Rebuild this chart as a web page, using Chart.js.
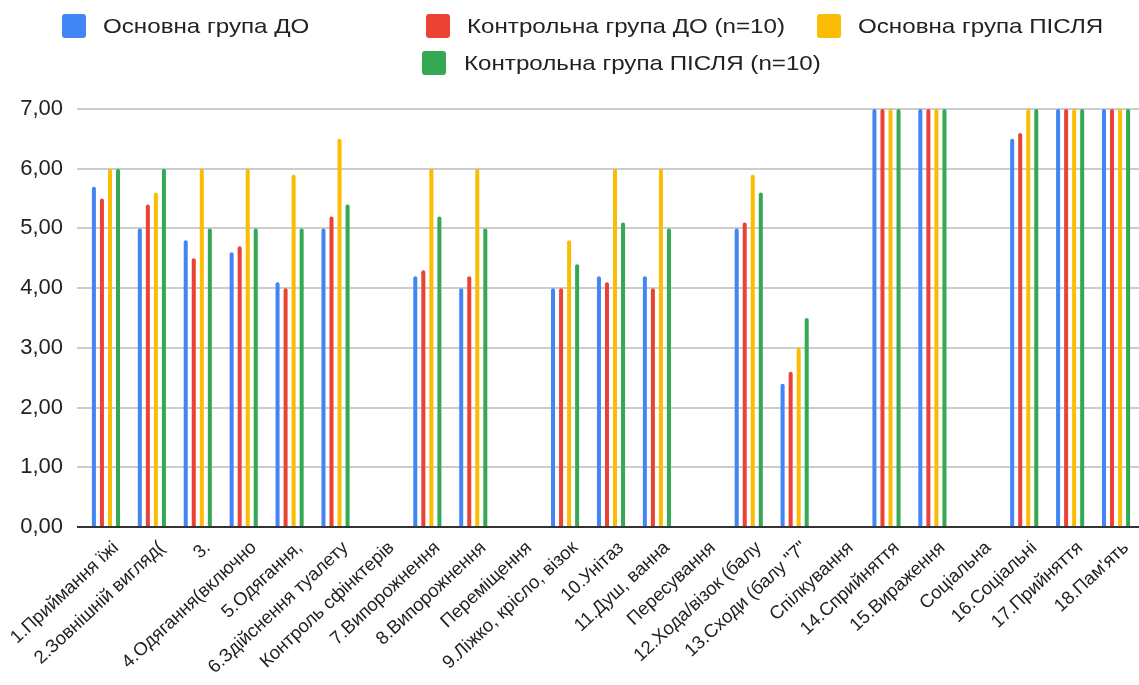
<!DOCTYPE html>
<html lang="uk">
<head>
<meta charset="utf-8">
<title>Оцінка за шкалою FIM</title>
<script src="https://cdn.jsdelivr.net/npm/chart.js@4/dist/chart.umd.min.js"></script>
<style>
  html, body { margin: 0; padding: 0; background: #fff; }
  #wrap { position: relative; width: 1139px; height: 685px; overflow: hidden; }
  #chart { position: absolute; left: 0; top: 0; }
  .sw { position: absolute; width: 24px; height: 24px; border-radius: 3px; }
  .tx { position: absolute; font-family: "Liberation Sans", Arial, sans-serif; font-size: 21px; line-height: 24px; color: #222; white-space: nowrap; transform: scaleX(1.15); transform-origin: 0 50%; }
</style>
</head>
<body>
<div id="wrap">
  <canvas id="chart" width="1139" height="685"></canvas>
  <div class="sw" style="left:62px; top:14px; background:#4285F4"></div>
  <div class="tx" style="left:103px; top:14px;">Основна група ДО</div>
  <div class="sw" style="left:426px; top:14px; background:#EA4335"></div>
  <div class="tx" style="left:467px; top:14px;">Контрольна група ДО (n=10)</div>
  <div class="sw" style="left:817px; top:14px; background:#FBBC04"></div>
  <div class="tx" style="left:858px; top:14px;">Основна група ПІСЛЯ</div>
  <div class="sw" style="left:422px; top:51px; background:#34A853"></div>
  <div class="tx" style="left:464px; top:51px;">Контрольна група ПІСЛЯ (n=10)</div>
</div>
<script>
// Categories of the scale (section headers have no scores)
const categories = [
  "1.Приймання їжі",
  "2.Зовнішній вигляд(",
  "3.",
  "4.Одягання(включно",
  "5.Одягання,",
  "6.Здійснення туалету",
  "Контроль сфінктерів",
  "7.Випорожнення",
  "8.Випорожнення",
  "Переміщення",
  "9.Ліжко, крісло, візок",
  "10.Унітаз",
  "11.Душ, ванна",
  "Пересування",
  "12.Хода/візок (балу",
  "13.Сходи (балу \"7\"",
  "Спілкування",
  "14.Сприйняття",
  "15.Вираження",
  "Соціальна",
  "16.Соціальні",
  "17.Прийняття",
  "18.Пам'ять"
];

const mainBefore    = [5.7, 5.0, 4.8, 4.6, 4.1, 5.0, null, 4.2, 4.0, null, 4.0, 4.2, 4.2, null, 5.0, 2.4, null, 7, 7, null, 6.5, 7, 7];
const controlBefore = [5.5, 5.4, 4.5, 4.7, 4.0, 5.2, null, 4.3, 4.2, null, 4.0, 4.1, 4.0, null, 5.1, 2.6, null, 7, 7, null, 6.6, 7, 7];
const mainAfter     = [6.0, 5.6, 6.0, 6.0, 5.9, 6.5, null, 6.0, 6.0, null, 4.8, 6.0, 6.0, null, 5.9, 3.0, null, 7, 7, null, 7, 7, 7];
const controlAfter  = [6.0, 6.0, 5.0, 5.0, 5.0, 5.4, null, 5.2, 5.0, null, 4.4, 5.1, 5.0, null, 5.6, 3.5, null, 7, 7, null, 7, 7, 7];

const seriesNames = ["Основна група ДО", "Контрольна група ДО (n=10)", "Основна група ПІСЛЯ", "Контрольна група ПІСЛЯ (n=10)"];
const seriesColors = ["#4285F4", "#EA4335", "#FBBC04", "#34A853"];
const yTicks = [0, 1, 2, 3, 4, 5, 6, 7];

const FONT = "'Liberation Sans', Arial, sans-serif";

const makeSet = (i, data) => ({
  label: seriesNames[i],
  data: data,
  backgroundColor: seriesColors[i],
  borderWidth: 0,
  borderRadius: { topLeft: 2, topRight: 2, bottomLeft: 0, bottomRight: 0 },
  borderSkipped: 'start',
  categoryPercentage: 0.70,
  barPercentage: 0.5
});

new Chart(document.getElementById('chart'), {
  type: 'bar',
  data: {
    labels: categories,
    datasets: [
      makeSet(0, mainBefore),
      makeSet(1, controlBefore),
      makeSet(2, mainAfter),
      makeSet(3, controlAfter)
    ]
  },
  options: {
    responsive: false,
    animation: false,
    layout: { padding: { top: 109, left: 0, right: 0, bottom: 0 } },
    plugins: {
      legend: { display: false },
      tooltip: { enabled: false }
    },
    scales: {
      x: {
        grid: { display: false },
        border: { display: false },
        ticks: {
          autoSkip: false,
          minRotation: 43,
          maxRotation: 43,
          padding: 2,
          labelOffset: 10,
          color: '#222',
          font: { family: FONT, size: 18.5 }
        },
        afterFit: (scale) => {
          scale.height = 158;
          scale.paddingLeft = 0;
          scale.paddingRight = 0;
        }
      },
      y: {
        min: 0,
        max: 7,
        afterBuildTicks: (scale) => { scale.ticks = yTicks.map(v => ({ value: v })); },
        border: { display: false },
        grid: {
          drawTicks: true,
          tickLength: 6,
          lineWidth: 2,
          color: (ctx) => (ctx.tick && ctx.tick.value === 0) ? '#333333' : '#cccccc'
        },
        ticks: {
          padding: 14,
          color: '#222',
          font: { family: FONT, size: 22 },
          callback: (v) => Number(v).toFixed(2).replace('.', ',')
        },
        afterFit: (scale) => {
          scale.width = 83;
          scale.paddingTop = 0;
          scale.paddingBottom = 0;
        }
      }
    }
  }
});
</script>
</body>
</html>
